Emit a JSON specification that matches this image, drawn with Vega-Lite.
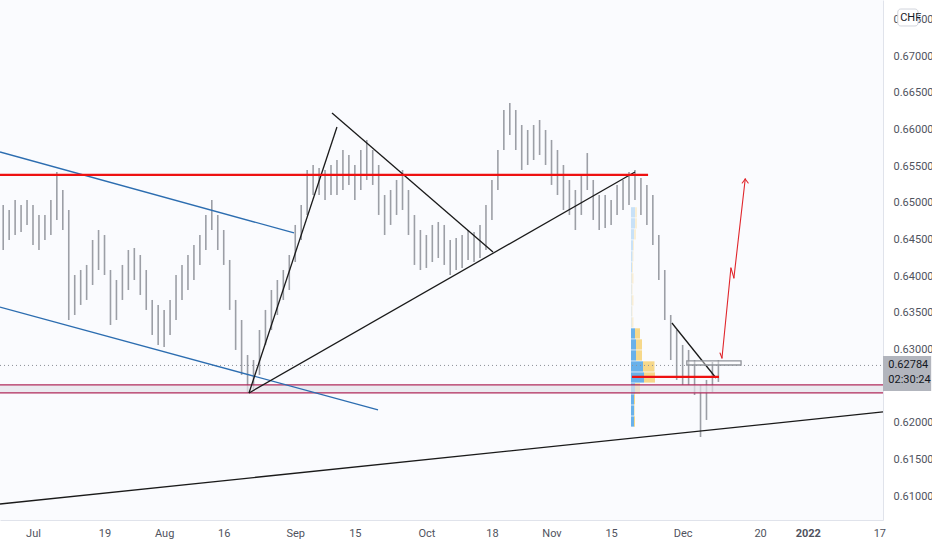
{
  "$schema": "https://vega.github.io/schema/vega-lite/v6.json",
  "width": 883,
  "height": 520,
  "autosize": {"type": "none"},
  "padding": {"left": 0, "top": 0, "right": 49, "bottom": 30},
  "background": "#ffffff",
  "datasets": {
    "bars": [
      {"t": -5, "lo": 0.64357, "hi": 0.6497}, {"t": -4, "lo": 0.64493, "hi": 0.64902}, {"t": -3, "lo": 0.64561, "hi": 0.65038},
      {"t": -2, "lo": 0.64602, "hi": 0.6497}, {"t": -1, "lo": 0.64698, "hi": 0.65038}, {"t": 0, "lo": 0.64425, "hi": 0.6497},
      {"t": 1, "lo": 0.64357, "hi": 0.64834}, {"t": 2, "lo": 0.64493, "hi": 0.64834}, {"t": 3, "lo": 0.64561, "hi": 0.65038},
      {"t": 4, "lo": 0.64766, "hi": 0.6542}, {"t": 5, "lo": 0.64629, "hi": 0.65174}, {"t": 6, "lo": 0.63403, "hi": 0.64902},
      {"t": 7, "lo": 0.63471, "hi": 0.64016}, {"t": 8, "lo": 0.63608, "hi": 0.64084}, {"t": 9, "lo": 0.63676, "hi": 0.64153},
      {"t": 10, "lo": 0.6388, "hi": 0.64493}, {"t": 11, "lo": 0.64084, "hi": 0.64629}, {"t": 12, "lo": 0.64016, "hi": 0.64561},
      {"t": 13, "lo": 0.63335, "hi": 0.64084}, {"t": 14, "lo": 0.63403, "hi": 0.63948}, {"t": 15, "lo": 0.63676, "hi": 0.64153},
      {"t": 16, "lo": 0.63812, "hi": 0.64357}, {"t": 17, "lo": 0.63948, "hi": 0.64384}, {"t": 18, "lo": 0.63744, "hi": 0.64289},
      {"t": 19, "lo": 0.6354, "hi": 0.64084}, {"t": 20, "lo": 0.63199, "hi": 0.63676}, {"t": 21, "lo": 0.63063, "hi": 0.63608},
      {"t": 22, "lo": 0.63035, "hi": 0.6354}, {"t": 23, "lo": 0.63199, "hi": 0.63676}, {"t": 24, "lo": 0.63403, "hi": 0.64016},
      {"t": 25, "lo": 0.63676, "hi": 0.64153}, {"t": 26, "lo": 0.63812, "hi": 0.64289}, {"t": 27, "lo": 0.63948, "hi": 0.64425},
      {"t": 28, "lo": 0.64153, "hi": 0.64561}, {"t": 29, "lo": 0.64357, "hi": 0.64834}, {"t": 30, "lo": 0.64629, "hi": 0.65038},
      {"t": 31, "lo": 0.64357, "hi": 0.64834}, {"t": 32, "lo": 0.64153, "hi": 0.64629}, {"t": 33, "lo": 0.6354, "hi": 0.64221},
      {"t": 34, "lo": 0.62995, "hi": 0.63676}, {"t": 35, "lo": 0.62654, "hi": 0.63403}, {"t": 36, "lo": 0.62409, "hi": 0.62926},
      {"t": 37, "lo": 0.6245, "hi": 0.62858}, {"t": 38, "lo": 0.62654, "hi": 0.63267}, {"t": 39, "lo": 0.63063, "hi": 0.6354},
      {"t": 40, "lo": 0.63267, "hi": 0.63812}, {"t": 41, "lo": 0.63471, "hi": 0.63948}, {"t": 42, "lo": 0.63676, "hi": 0.64084},
      {"t": 43, "lo": 0.63812, "hi": 0.64289}, {"t": 44, "lo": 0.64193, "hi": 0.64698}, {"t": 45, "lo": 0.64493, "hi": 0.6497},
      {"t": 46, "lo": 0.64834, "hi": 0.65447}, {"t": 47, "lo": 0.65106, "hi": 0.65515}, {"t": 48, "lo": 0.65106, "hi": 0.65474},
      {"t": 49, "lo": 0.65038, "hi": 0.65447}, {"t": 50, "lo": 0.65106, "hi": 0.65515}, {"t": 51, "lo": 0.65106, "hi": 0.65583},
      {"t": 52, "lo": 0.65174, "hi": 0.65719}, {"t": 53, "lo": 0.65243, "hi": 0.65651}, {"t": 54, "lo": 0.65038, "hi": 0.65515},
      {"t": 55, "lo": 0.65174, "hi": 0.65719}, {"t": 56, "lo": 0.65311, "hi": 0.65856}, {"t": 57, "lo": 0.65243, "hi": 0.65719},
      {"t": 58, "lo": 0.64834, "hi": 0.65515}, {"t": 59, "lo": 0.64561, "hi": 0.65106}, {"t": 60, "lo": 0.64698, "hi": 0.65174},
      {"t": 61, "lo": 0.64834, "hi": 0.65311}, {"t": 62, "lo": 0.64902, "hi": 0.65447}, {"t": 63, "lo": 0.64561, "hi": 0.65174},
      {"t": 64, "lo": 0.64153, "hi": 0.64834}, {"t": 65, "lo": 0.64084, "hi": 0.64629}, {"t": 66, "lo": 0.64112, "hi": 0.64561},
      {"t": 67, "lo": 0.64193, "hi": 0.64698}, {"t": 68, "lo": 0.64248, "hi": 0.64738}, {"t": 69, "lo": 0.64153, "hi": 0.64698},
      {"t": 70, "lo": 0.64016, "hi": 0.64493}, {"t": 71, "lo": 0.64084, "hi": 0.6452}, {"t": 72, "lo": 0.64112, "hi": 0.64561},
      {"t": 73, "lo": 0.64221, "hi": 0.64629}, {"t": 74, "lo": 0.64193, "hi": 0.64602}, {"t": 75, "lo": 0.64248, "hi": 0.64698},
      {"t": 76, "lo": 0.64357, "hi": 0.6497}, {"t": 77, "lo": 0.64766, "hi": 0.65311}, {"t": 78, "lo": 0.65174, "hi": 0.65719},
      {"t": 79, "lo": 0.65719, "hi": 0.66264}, {"t": 80, "lo": 0.65924, "hi": 0.6636}, {"t": 81, "lo": 0.65719, "hi": 0.66264},
      {"t": 82, "lo": 0.65447, "hi": 0.6606}, {"t": 83, "lo": 0.65515, "hi": 0.65992}, {"t": 84, "lo": 0.65583, "hi": 0.6606},
      {"t": 85, "lo": 0.65651, "hi": 0.66128}, {"t": 86, "lo": 0.65515, "hi": 0.65992}, {"t": 87, "lo": 0.65243, "hi": 0.65856},
      {"t": 88, "lo": 0.65106, "hi": 0.65719}, {"t": 89, "lo": 0.64902, "hi": 0.65515}, {"t": 90, "lo": 0.64834, "hi": 0.65311},
      {"t": 91, "lo": 0.64629, "hi": 0.65174}, {"t": 92, "lo": 0.64834, "hi": 0.65379}, {"t": 93, "lo": 0.65174, "hi": 0.65678},
      {"t": 94, "lo": 0.64766, "hi": 0.65311}, {"t": 95, "lo": 0.64629, "hi": 0.65106}, {"t": 96, "lo": 0.64657, "hi": 0.65106},
      {"t": 97, "lo": 0.64698, "hi": 0.65038}, {"t": 98, "lo": 0.64834, "hi": 0.65243}, {"t": 99, "lo": 0.64902, "hi": 0.65311},
      {"t": 100, "lo": 0.6497, "hi": 0.6542}, {"t": 101, "lo": 0.65038, "hi": 0.65447}, {"t": 102, "lo": 0.64834, "hi": 0.65338},
      {"t": 103, "lo": 0.64698, "hi": 0.65243}, {"t": 104, "lo": 0.64425, "hi": 0.65106}, {"t": 105, "lo": 0.63948, "hi": 0.64561},
      {"t": 106, "lo": 0.63403, "hi": 0.64084}, {"t": 107, "lo": 0.62858, "hi": 0.63471}, {"t": 108, "lo": 0.62586, "hi": 0.63267},
      {"t": 109, "lo": 0.62518, "hi": 0.63063}, {"t": 110, "lo": 0.62518, "hi": 0.62995}, {"t": 111, "lo": 0.62381, "hi": 0.62858},
      {"t": 112, "lo": 0.61809, "hi": 0.62518}, {"t": 113, "lo": 0.62041, "hi": 0.62586}, {"t": 114, "lo": 0.62422, "hi": 0.62831},
      {"t": 115, "lo": 0.62559, "hi": 0.62858}
    ],
    "vp": [
      {"lo": 0.6195, "hi": 0.6209, "side": "up", "vol": 3, "va": 1}, {"lo": 0.6195, "hi": 0.6209, "side": "dn", "vol": 1, "va": 1},
      {"lo": 0.621, "hi": 0.6224, "side": "up", "vol": 3, "va": 1}, {"lo": 0.621, "hi": 0.6224, "side": "dn", "vol": 0.5, "va": 1},
      {"lo": 0.6225, "hi": 0.6239, "side": "up", "vol": 3, "va": 1}, {"lo": 0.6225, "hi": 0.6239, "side": "dn", "vol": 1, "va": 1},
      {"lo": 0.624, "hi": 0.6254, "side": "up", "vol": 4, "va": 1}, {"lo": 0.624, "hi": 0.6254, "side": "dn", "vol": 5, "va": 1},
      {"lo": 0.6255, "hi": 0.6269, "side": "up", "vol": 13, "va": 1}, {"lo": 0.6255, "hi": 0.6269, "side": "dn", "vol": 11, "va": 1},
      {"lo": 0.627, "hi": 0.6284, "side": "up", "vol": 12, "va": 1}, {"lo": 0.627, "hi": 0.6284, "side": "dn", "vol": 11.5, "va": 1},
      {"lo": 0.6285, "hi": 0.6299, "side": "up", "vol": 5, "va": 1}, {"lo": 0.6285, "hi": 0.6299, "side": "dn", "vol": 6, "va": 1},
      {"lo": 0.63, "hi": 0.6314, "side": "up", "vol": 5, "va": 1}, {"lo": 0.63, "hi": 0.6314, "side": "dn", "vol": 6, "va": 1},
      {"lo": 0.6315, "hi": 0.6329, "side": "up", "vol": 4, "va": 1}, {"lo": 0.6315, "hi": 0.6329, "side": "dn", "vol": 5, "va": 1},
      {"lo": 0.633, "hi": 0.6344, "side": "up", "vol": 0.5, "va": 0}, {"lo": 0.633, "hi": 0.6344, "side": "dn", "vol": 2, "va": 0},
      {"lo": 0.6345, "hi": 0.6359, "side": "up", "vol": 0.5, "va": 0}, {"lo": 0.6345, "hi": 0.6359, "side": "dn", "vol": 1, "va": 0},
      {"lo": 0.636, "hi": 0.6374, "side": "up", "vol": 0.5, "va": 0}, {"lo": 0.636, "hi": 0.6374, "side": "dn", "vol": 2, "va": 0},
      {"lo": 0.6375, "hi": 0.6389, "side": "up", "vol": 0.5, "va": 0}, {"lo": 0.6375, "hi": 0.6389, "side": "dn", "vol": 1, "va": 0},
      {"lo": 0.639, "hi": 0.6404, "side": "up", "vol": 0.5, "va": 0}, {"lo": 0.639, "hi": 0.6404, "side": "dn", "vol": 2, "va": 0},
      {"lo": 0.6405, "hi": 0.6419, "side": "up", "vol": 1, "va": 0}, {"lo": 0.6405, "hi": 0.6419, "side": "dn", "vol": 1, "va": 0},
      {"lo": 0.642, "hi": 0.6434, "side": "up", "vol": 1.5, "va": 0}, {"lo": 0.642, "hi": 0.6434, "side": "dn", "vol": 1, "va": 0},
      {"lo": 0.6435, "hi": 0.6449, "side": "up", "vol": 2, "va": 0}, {"lo": 0.6435, "hi": 0.6449, "side": "dn", "vol": 1, "va": 0},
      {"lo": 0.645, "hi": 0.6464, "side": "up", "vol": 3, "va": 0}, {"lo": 0.645, "hi": 0.6464, "side": "dn", "vol": 2, "va": 0},
      {"lo": 0.6465, "hi": 0.6479, "side": "up", "vol": 4, "va": 0}, {"lo": 0.6465, "hi": 0.6479, "side": "dn", "vol": 2, "va": 0},
      {"lo": 0.648, "hi": 0.6494, "side": "up", "vol": 4, "va": 0}, {"lo": 0.648, "hi": 0.6494, "side": "dn", "vol": 2, "va": 0}
    ],
    "segs": [
      {"kind": "band", "t1": -5.537, "p1": 0.62409, "t2": 142.617, "p2": 0.62518},
      {"kind": "dotted", "t1": -5.537, "p1": 0.62784, "t2": 142.617, "p2": 0.62784},
      {"kind": "maroon", "t1": -5.537, "p1": 0.62518, "t2": 142.617, "p2": 0.62518},
      {"kind": "maroon", "t1": -5.537, "p1": 0.62409, "t2": 142.617, "p2": 0.62409},
      {"kind": "blue", "t1": -5.537, "p1": 0.65692, "t2": 43.79, "p2": 0.64589},
      {"kind": "blue", "t1": -5.537, "p1": 0.6358, "t2": 57.89, "p2": 0.62177},
      {"kind": "black", "t1": 36.24, "p1": 0.62409, "t2": 51.0, "p2": 0.66033},
      {"kind": "black", "t1": 50.17, "p1": 0.66223, "t2": 77.18, "p2": 0.6433},
      {"kind": "black", "t1": 36.24, "p1": 0.62409, "t2": 101.0, "p2": 0.6542},
      {"kind": "black", "t1": -5.537, "p1": 0.60896, "t2": 142.617, "p2": 0.6215},
      {"kind": "black", "t1": 107.2, "p1": 0.63362, "t2": 114.6, "p2": 0.62613},
      {"kind": "red", "t1": -5.537, "p1": 0.65379, "t2": 103.2, "p2": 0.65379},
      {"kind": "red", "t1": 100.5, "p1": 0.62627, "t2": 115.1, "p2": 0.62627},
      {"kind": "box", "t1": 109.7, "p1": 0.6279, "t2": 118.8, "p2": 0.62845},
      {"kind": "arrow", "t1": 115.6, "p1": 0.62886, "t2": 117.1, "p2": 0.64112},
      {"kind": "arrow", "t1": 117.1, "p1": 0.64112, "t2": 117.6, "p2": 0.63976},
      {"kind": "arrow", "t1": 117.6, "p1": 0.63976, "t2": 119.5, "p2": 0.65324},
      {"kind": "arrow", "t1": 119.0, "p1": 0.6527, "t2": 119.5, "p2": 0.65324},
      {"kind": "arrow", "t1": 120.0, "p1": 0.6527, "t2": 119.5, "p2": 0.65324},
      {"kind": "arrow", "t1": 115.27, "p1": 0.62954, "t2": 115.6, "p2": 0.62886},
      {"kind": "pricetag", "t1": 142.617, "p1": 0.62436, "t2": 150.7, "p2": 0.62913},
      {"kind": "currency", "t1": 145.1, "p1": 0.67409, "t2": 148.5, "p2": 0.6764}
    ],
    "tags": [
      {"label": "0.62784", "t": 143.5, "p": 0.62784},
      {"label": "02:30:24", "t": 143.5, "p": 0.62586},
      {"label": "CHF", "t": 145.5, "p": 0.67524}
    ]
  },
  "resolve": {
    "scale": {"x": "independent", "y": "independent"},
    "axis": {"x": "independent", "y": "independent"}
  },
  "layer": [
    {
      "data": {"name": "vp"},
      "transform": [
        {"stack": "vol", "groupby": ["lo"], "sort": [{"field": "side", "order": "descending"}], "as": ["v0", "v1"]}
      ],
      "mark": {"type": "rect"},
      "encoding": {
        "x": {"field": "v0", "type": "quantitative", "scale": {"domain": [-631, 252], "nice": false, "zero": false}, "axis": null},
        "x2": {"field": "v1"},
        "y": {"field": "lo", "type": "quantitative", "scale": {"domain": [0.60678, 0.67763], "nice": false, "zero": false}, "axis": null},
        "y2": {"field": "hi"},
        "color": {"field": "side", "type": "nominal", "scale": {"domain": ["up", "dn"], "range": ["#69b1ea", "#f6d88a"]}, "legend": null},
        "opacity": {"field": "va", "type": "quantitative", "scale": {"domain": [0, 1], "range": [0.35, 1]}, "legend": null}
      }
    },
    {
      "data": {"name": "bars"},
      "mark": {"type": "rule", "color": "#9c9fa6", "strokeWidth": 1.6},
      "encoding": {
        "x": {
          "field": "t", "type": "quantitative", "title": null,
          "scale": {"domain": [-5.537, 142.617], "nice": false, "zero": false},
          "axis": {
            "values": [0, 12, 22, 32, 44, 54, 66, 77, 87, 97, 109, 122, 130, 142],
            "labelExpr": "['Jul','19','Aug','16','Sep','15','Oct','18','Nov','15','Dec','20','2022','17'][indexof([0,12,22,32,44,54,66,77,87,97,109,122,130,142], datum.value)]",
            "labelPadding": 7,
            "labelFlush": false,
            "labelOverlap": false,
            "labelFontWeight": {"condition": {"test": "datum.value == 130", "value": "bold"}, "value": "normal"}
          }
        },
        "y": {
          "field": "lo", "type": "quantitative", "title": null,
          "scale": {"domain": [0.60678, 0.67763], "nice": false, "zero": false},
          "axis": {
            "orient": "right",
            "values": [0.61, 0.615, 0.62, 0.63, 0.635, 0.64, 0.645, 0.65, 0.655, 0.66, 0.665, 0.67, 0.675],
            "format": ".5f",
            "labelPadding": 10,
            "labelAlign": "left",
            "labelBaseline": "middle"
          }
        },
        "y2": {"field": "hi"}
      }
    },
    {
      "data": {"name": "segs"},
      "encoding": {
        "x": {"field": "t1", "type": "quantitative", "scale": {"domain": [-5.537, 142.617], "nice": false, "zero": false}, "axis": null},
        "x2": {"field": "t2"},
        "y": {"field": "p1", "type": "quantitative", "scale": {"domain": [0.60678, 0.67763], "nice": false, "zero": false}, "axis": null},
        "y2": {"field": "p2"}
      },
      "layer": [
        {"transform": [{"filter": "datum.kind == 'band'"}], "mark": {"type": "rect", "fill": "#e4e2ea", "opacity": 0.7}},
        {"transform": [{"filter": "datum.kind == 'dotted'"}], "mark": {"type": "rule", "color": "#8c8f98", "strokeWidth": 1, "strokeDash": [1, 3]}},
        {"transform": [{"filter": "datum.kind == 'maroon'"}], "mark": {"type": "rule", "color": "#b02a5b", "strokeWidth": 1.2}},
        {"transform": [{"filter": "datum.kind == 'blue'"}], "mark": {"type": "rule", "color": "#2c6db0", "strokeWidth": 1.3}},
        {"transform": [{"filter": "datum.kind == 'black'"}], "mark": {"type": "rule", "color": "#1a1a1a", "strokeWidth": 1.3}},
        {"transform": [{"filter": "datum.kind == 'red'"}], "mark": {"type": "rule", "color": "#ee1111", "strokeWidth": 2.2}},
        {"transform": [{"filter": "datum.kind == 'box'"}], "mark": {"type": "rect", "fill": "#ffffff", "fillOpacity": 0.4, "stroke": "#8f9299", "strokeWidth": 1.3}},
        {"transform": [{"filter": "datum.kind == 'arrow'"}], "mark": {"type": "rule", "color": "#e0252b", "strokeWidth": 1.1, "strokeCap": "round"}},
        {"transform": [{"filter": "datum.kind == 'pricetag'"}], "mark": {"type": "rect", "fill": "#b2b5bd"}},
        {"transform": [{"filter": "datum.kind == 'currency'"}], "mark": {"type": "rect", "fill": "#ffffff", "stroke": "#d1d4dc", "cornerRadius": 3}}
      ]
    },
    {
      "data": {"name": "tags"},
      "mark": {"type": "text", "align": "left", "baseline": "middle", "fontSize": 11, "color": "#131722", "font": "Liberation Sans Narrow, Arial Narrow, Roboto"},
      "encoding": {
        "x": {"field": "t", "type": "quantitative", "scale": {"domain": [-5.537, 142.617], "nice": false, "zero": false}, "axis": null},
        "y": {"field": "p", "type": "quantitative", "scale": {"domain": [0.60678, 0.67763], "nice": false, "zero": false}, "axis": null},
        "text": {"field": "label"}
      }
    }
  ],
  "config": {
    "view": {"stroke": null, "fill": "#fafbfe"},
    "axis": {
      "domainColor": "#e0e3eb",
      "domainWidth": 1,
      "ticks": false,
      "grid": false,
      "labelColor": "#50535e",
      "labelFont": "Liberation Sans Narrow, Arial Narrow, Roboto",
      "labelFontSize": 11
    }
  }
}
